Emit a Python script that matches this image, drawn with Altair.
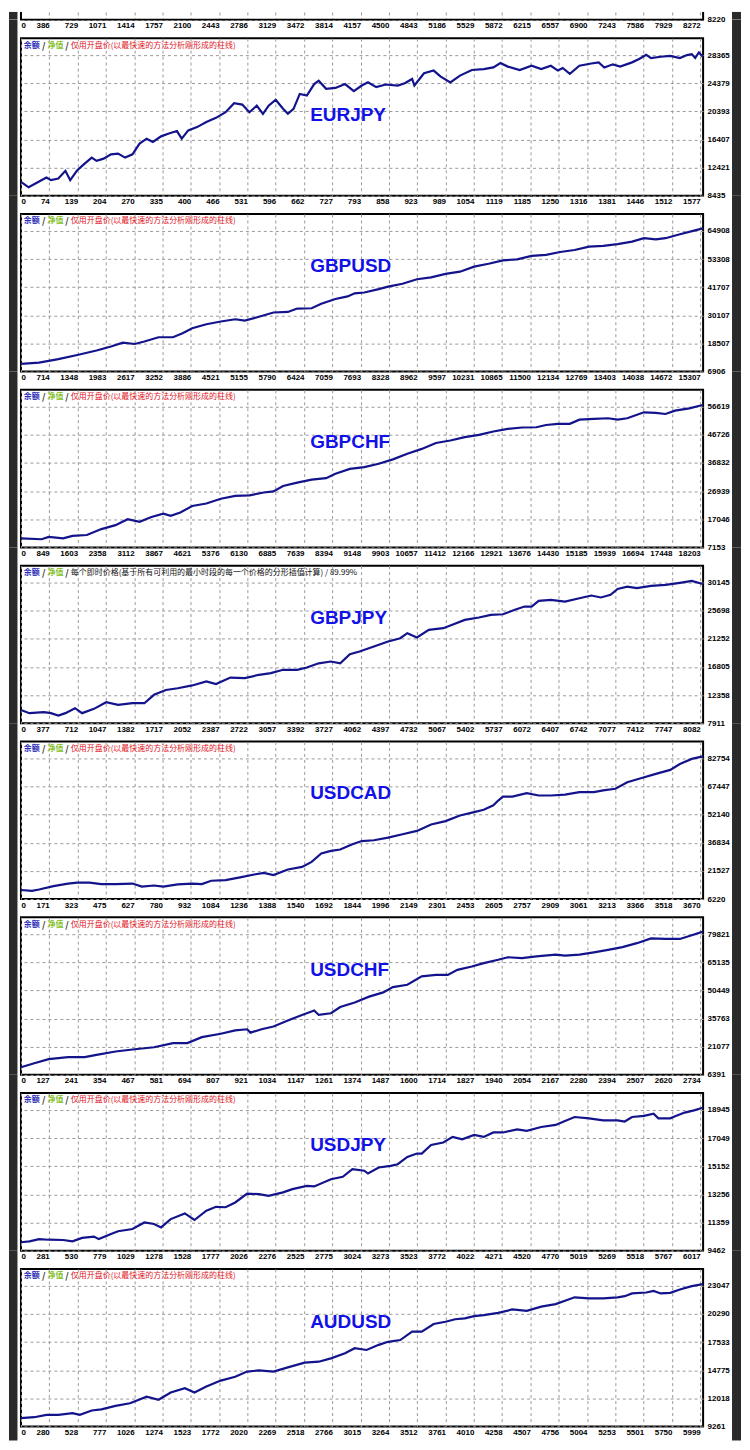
import altair as alt
import pandas as pd

# ---------------- axis labels ----------------
TOP_XL = [0, 386, 729, 1071, 1414, 1757, 2100, 2443, 2786, 3129, 3472, 3814, 4157, 4500,
          4843, 5186, 5529, 5872, 6215, 6557, 6900, 7243, 7586, 7929, 8272]
TOP_YL = [8220]

EURJPY_XL = [0, 74, 139, 204, 270, 335, 400, 466, 531, 596, 662, 727, 793, 858, 923, 989,
             1054, 1119, 1185, 1250, 1316, 1381, 1446, 1512, 1577]
EURJPY_YL = [8435, 12421, 16407, 20393, 24379, 28365]

GBPUSD_XL = [0, 714, 1348, 1983, 2617, 3252, 3886, 4521, 5155, 5790, 6424, 7059, 7693, 8328,
             8962, 9597, 10231, 10865, 11500, 12134, 12769, 13403, 14038, 14672, 15307]
GBPUSD_YL = [6906, 18507, 30107, 41707, 53308, 64908]

GBPCHF_XL = [0, 849, 1603, 2358, 3112, 3867, 4621, 5376, 6130, 6885, 7639, 8394, 9148, 9903,
             10657, 11412, 12166, 12921, 13676, 14430, 15185, 15939, 16694, 17448, 18203]
GBPCHF_YL = [7153, 17046, 26939, 36832, 46726, 56619]

GBPJPY_XL = [0, 377, 712, 1047, 1382, 1717, 2052, 2387, 2722, 3057, 3392, 3727, 4062, 4397,
             4732, 5067, 5402, 5737, 6072, 6407, 6742, 7077, 7412, 7747, 8082]
GBPJPY_YL = [7911, 12358, 16805, 21252, 25698, 30145]

USDCAD_XL = [0, 171, 323, 475, 627, 780, 932, 1084, 1236, 1388, 1540, 1692, 1844, 1996, 2149,
             2301, 2453, 2605, 2757, 2909, 3061, 3213, 3366, 3518, 3670]
USDCAD_YL = [6220, 21527, 36834, 52140, 67447, 82754]

USDCHF_XL = [0, 127, 241, 354, 467, 581, 694, 807, 921, 1034, 1147, 1261, 1374, 1487, 1600,
             1714, 1827, 1940, 2054, 2167, 2280, 2394, 2507, 2620, 2734]
USDCHF_YL = [6391, 21077, 35763, 50449, 65135, 79821]

USDJPY_XL = [0, 281, 530, 779, 1029, 1278, 1528, 1777, 2026, 2276, 2525, 2775, 3024, 3273,
             3523, 3772, 4022, 4271, 4520, 4770, 5019, 5269, 5518, 5767, 6017]
USDJPY_YL = [9462, 11359, 13256, 15152, 17049, 18945]

AUDUSD_XL = [0, 280, 528, 777, 1026, 1274, 1523, 1772, 2020, 2269, 2518, 2766, 3015, 3264,
             3512, 3761, 4010, 4258, 4507, 4756, 5004, 5253, 5501, 5750, 5999]
AUDUSD_YL = [9261, 12018, 14775, 17533, 20290, 23047]

# ---------------- balance curves: (position in grid steps, balance) ----------------
EURJPY = [(0, 10400), (0.27, 9630), (0.56, 10270), (0.90, 11020), (1.06, 10640), (1.32, 10880),
          (1.57, 11960), (1.74, 10640), (1.99, 12060), (2.25, 12980), (2.50, 13840), (2.67, 13370),
          (2.92, 13690), (3.18, 14300), (3.43, 14410), (3.68, 13840), (3.94, 14300), (4.19, 15820),
          (4.44, 16520), (4.66, 16050), (4.95, 16850), (5.20, 17210), (5.51, 17600), (5.68, 16520),
          (5.91, 17690), (6.22, 18160), (6.55, 18880), (6.89, 19470), (7.23, 20270), (7.53, 21550),
          (7.82, 21350), (8.07, 20270), (8.33, 21190), (8.55, 20040), (8.75, 21190), (9.00, 22030),
          (9.26, 20750), (9.43, 20040), (9.63, 20750), (9.85, 22860), (10.10, 22640), (10.36, 24260),
          (10.52, 24740), (10.78, 23580), (11.11, 23710), (11.45, 24260), (11.76, 23260), (12.04, 24050),
          (12.26, 24500), (12.55, 23820), (12.89, 24190), (13.31, 24050), (13.56, 24380), (13.82, 24980),
          (13.90, 24050), (14.24, 25780), (14.58, 26170), (14.83, 25300), (15.17, 24500), (15.51, 25450),
          (15.93, 26250), (16.35, 26370), (16.69, 26610), (16.94, 27240), (17.20, 26730), (17.62, 26250),
          (18.04, 26850), (18.38, 26370), (18.72, 26850), (18.97, 26170), (19.14, 26530), (19.39, 25700),
          (19.73, 26850), (20.15, 27170), (20.41, 27330), (20.61, 26610), (20.91, 27050), (21.17, 26730),
          (21.59, 27330), (21.84, 27800), (22.09, 28400), (22.26, 27940), (22.60, 28130), (22.94, 28250),
          (23.28, 27940), (23.53, 28365), (23.70, 28500), (23.82, 27940), (23.95, 28730), (24.09, 28130)]

GBPUSD = [(0, 10040), (0.64, 10620), (1.32, 12010), (1.99, 13750), (2.67, 15600), (3.18, 17230),
          (3.60, 18850), (4.02, 18280), (4.36, 19320), (4.86, 21060), (5.37, 21060), (5.71, 22680),
          (6.05, 24770), (6.55, 26400), (7.06, 27550), (7.57, 28480), (7.91, 27900), (8.41, 29530),
          (8.92, 31270), (9.43, 31500), (9.76, 32890), (10.27, 33010), (10.61, 34860), (11.11, 36830),
          (11.54, 37880), (11.79, 39150), (12.13, 39500), (12.64, 40890), (12.97, 41940), (13.48, 43100),
          (13.99, 44960), (14.49, 45770), (15.00, 47160), (15.51, 48090), (16.01, 50180), (16.52, 51340),
          (17.03, 52730), (17.53, 53190), (18.04, 54580), (18.55, 55050), (19.05, 56210), (19.56, 57020),
          (20.07, 58410), (20.57, 58760), (21.08, 59450), (21.59, 60500), (22.01, 61890), (22.43, 61430),
          (22.77, 61890), (23.28, 63510), (23.78, 65020), (24.09, 65950)]

GBPCHF = [(0, 10320), (0.73, 10020), (0.98, 10810), (1.49, 10320), (1.82, 11210), (2.33, 11510),
          (2.84, 13580), (3.34, 14970), (3.77, 17050), (4.19, 16160), (4.61, 17840), (5.03, 19020),
          (5.29, 18230), (5.63, 19420), (6.05, 21700), (6.55, 22590), (7.06, 24270), (7.57, 25260),
          (8.07, 25460), (8.58, 26450), (8.92, 26840), (9.26, 28720), (9.76, 29910), (10.27, 30990),
          (10.78, 31490), (11.11, 33070), (11.62, 34760), (12.13, 35350), (12.64, 36540), (13.14, 38110),
          (13.65, 40100), (14.16, 41780), (14.66, 43860), (15.17, 44750), (15.68, 45930), (16.18, 46720),
          (16.69, 47910), (17.20, 48800), (17.70, 49300), (18.21, 49390), (18.55, 50190), (18.97, 50580),
          (19.39, 50580), (19.73, 52070), (20.24, 52360), (20.74, 52560), (21.08, 52070), (21.42, 52560),
          (22.01, 54640), (22.43, 54440), (22.77, 54050), (23.11, 55230), (23.61, 56020), (24.09, 57210)]

GBPJPY = [(0, 10000), (0.30, 9500), (0.81, 9650), (1.06, 9500), (1.32, 9110), (1.57, 9500),
          (1.91, 10280), (2.16, 9500), (2.58, 10180), (3.01, 11230), (3.43, 10810), (3.94, 11070),
          (4.36, 11070), (4.70, 12400), (5.12, 13160), (5.54, 13440), (6.05, 13880), (6.55, 14510),
          (6.89, 14090), (7.40, 15130), (7.91, 15030), (8.41, 15560), (8.83, 15820), (9.26, 16350),
          (9.76, 16350), (10.10, 16710), (10.52, 17380), (10.95, 17660), (11.28, 17380), (11.62, 18820),
          (11.96, 19240), (12.47, 20040), (12.97, 20820), (13.40, 21340), (13.65, 22140), (13.99, 21460),
          (14.41, 22660), (14.92, 22930), (15.17, 23360), (15.68, 24240), (16.18, 24610), (16.60, 25030),
          (17.03, 25130), (17.45, 25830), (17.79, 26350), (18.04, 26350), (18.29, 27250), (18.72, 27390),
          (19.22, 27140), (19.73, 27660), (20.15, 28090), (20.49, 27780), (20.83, 28200), (21.08, 29130),
          (21.42, 29500), (21.76, 29250), (22.26, 29620), (22.77, 29770), (23.28, 30100), (23.70, 30410),
          (24.09, 29900)]

USDCAD = [(0, 11120), (0.39, 10660), (0.64, 11420), (1.15, 13260), (1.66, 14640), (1.99, 15100),
          (2.42, 15100), (2.84, 14330), (3.34, 14330), (3.94, 14640), (4.27, 12950), (4.70, 13570),
          (5.03, 12950), (5.54, 14180), (6.05, 14640), (6.39, 14330), (6.72, 16170), (7.23, 16480),
          (7.74, 18010), (8.24, 19540), (8.58, 20460), (8.92, 19230), (9.43, 22290), (9.93, 23670),
          (10.27, 26430), (10.61, 30990), (10.95, 32400), (11.28, 33160), (11.71, 36070), (12.04, 37760),
          (12.47, 38210), (12.97, 39600), (13.48, 41430), (13.99, 43260), (14.49, 46790), (15.00, 48620),
          (15.51, 51680), (16.01, 53520), (16.35, 54750), (16.69, 57190), (16.86, 59800), (17.03, 61940),
          (17.36, 61940), (17.87, 63770), (18.29, 62550), (18.72, 62550), (19.22, 63010), (19.73, 64390),
          (20.24, 64390), (20.57, 65300), (21.00, 66220), (21.42, 69740), (21.93, 72040), (22.43, 74330),
          (22.94, 76470), (23.28, 79690), (23.70, 82440), (24.09, 83820)]

USDCHF = [(0, 10360), (0.47, 12410), (0.98, 14610), (1.66, 15640), (2.25, 15640), (2.67, 16820),
          (3.34, 18580), (4.02, 19750), (4.70, 20780), (5.37, 22980), (5.88, 22980), (6.39, 26070),
          (7.06, 27830), (7.57, 29590), (7.99, 30180), (8.11, 28420), (8.50, 30180), (8.92, 31650),
          (9.43, 34740), (9.93, 37670), (10.36, 40020), (10.52, 37670), (10.95, 38550), (11.28, 41790),
          (11.79, 44140), (12.30, 47220), (12.80, 49420), (13.14, 52210), (13.65, 53390), (14.16, 57790),
          (14.66, 58530), (15.08, 58530), (15.42, 61170), (15.93, 62930), (16.35, 64690), (16.86, 66460),
          (17.20, 67780), (17.70, 67340), (18.21, 68220), (18.89, 69100), (19.22, 68660), (19.73, 69100),
          (20.24, 70280), (20.74, 71600), (21.25, 73060), (21.76, 75120), (22.26, 77620), (22.77, 77330),
          (23.28, 77330), (23.70, 79260), (24.09, 81140)]

USDJPY = [(0, 10030), (0.30, 10090), (0.64, 10240), (0.98, 10200), (1.49, 10180), (1.82, 10090),
          (2.16, 10320), (2.58, 10410), (2.75, 10240), (3.18, 10580), (3.43, 10770), (3.94, 10920),
          (4.36, 11360), (4.70, 11260), (4.95, 11030), (5.29, 11590), (5.79, 11970), (6.13, 11530),
          (6.55, 12160), (6.89, 12420), (7.23, 12390), (7.57, 12710), (7.99, 13310), (8.41, 13270),
          (8.75, 13160), (9.26, 13390), (9.59, 13610), (10.10, 13830), (10.36, 13790), (10.95, 14280),
          (11.37, 14440), (11.71, 14960), (12.13, 14850), (12.26, 14660), (12.64, 15070), (13.06, 15180),
          (13.31, 15290), (13.65, 15780), (13.99, 16010), (14.16, 16000), (14.49, 16590), (14.92, 16750),
          (15.25, 17130), (15.59, 16970), (16.01, 17260), (16.35, 17130), (16.69, 17430), (17.03, 17430),
          (17.53, 17640), (17.87, 17540), (18.38, 17800), (18.89, 17940), (19.22, 18200), (19.56, 18470),
          (20.07, 18380), (20.57, 18250), (21.08, 18250), (21.33, 18170), (21.59, 18470), (22.01, 18550),
          (22.35, 18700), (22.52, 18380), (22.94, 18380), (23.11, 18520), (23.45, 18770), (23.78, 18920),
          (24.09, 19100)]

AUDUSD = [(0, 10090), (0.47, 10170), (0.90, 10400), (1.32, 10400), (1.82, 10560), (2.08, 10400),
          (2.50, 10830), (2.84, 10940), (3.34, 11280), (3.85, 11540), (4.44, 12180), (4.86, 11880),
          (5.29, 12590), (5.79, 13010), (6.13, 12590), (6.55, 13180), (7.06, 13760), (7.57, 14140),
          (7.99, 14640), (8.41, 14750), (8.92, 14640), (9.43, 15050), (10.02, 15520), (10.52, 15610),
          (10.95, 15940), (11.45, 16430), (11.79, 16930), (12.21, 16760), (12.64, 17260), (12.97, 17560),
          (13.40, 17730), (13.82, 18550), (14.16, 18550), (14.58, 19300), (15.00, 19520), (15.34, 19770),
          (15.68, 19850), (16.01, 20070), (16.35, 20180), (16.86, 20400), (17.36, 20730), (17.87, 20590),
          (18.38, 21010), (18.89, 21250), (19.22, 21590), (19.56, 21920), (20.07, 21810), (20.57, 21810),
          (21.08, 21920), (21.33, 22030), (21.59, 22300), (22.09, 22390), (22.35, 22550), (22.60, 22300),
          (22.94, 22360), (23.28, 22690), (23.70, 23020), (24.09, 23210)]

# ---------------- header texts ----------------
H_BAL = "余额"
H_EQ = "净值"
H_OPEN = "仅用开盘价(以最快速的方法分析刚形成的柱线)"
H_TICK = "每个即时价格(基于所有可利用的最小时段的每一个价格的分形插值计算) / 89.99%"

PANELS = [
    ("EURJPY", EURJPY, EURJPY_XL, EURJPY_YL, "open", 77.5),
    ("GBPUSD", GBPUSD, GBPUSD_XL, GBPUSD_YL, "open", 52.0),
    ("GBPCHF", GBPCHF, GBPCHF_XL, GBPCHF_YL, "open", 52.0),
    ("GBPJPY", GBPJPY, GBPJPY_XL, GBPJPY_YL, "tick", 52.3),
    ("USDCAD", USDCAD, USDCAD_XL, USDCAD_YL, "open", 52.1),
    ("USDCHF", USDCHF, USDCHF_XL, USDCHF_YL, "open", 52.5),
    ("USDJPY", USDJPY, USDJPY_XL, USDJPY_YL, "open", 52.5),
    ("AUDUSD", AUDUSD, AUDUSD_XL, AUDUSD_YL, "open", 52.9),
]

# ---------------- style ----------------
W, H, GAP = 684, 158, 18.3
TOP_H = 7.7
X_END = 24.1
DARK = "#2a2a2a"
LINE = "#13138c"
BIG = "#1212e6"
CJK = "Noto Sans CJK SC"
NUM = "Liberation Sans"
ONE = pd.DataFrame({"k": [0]})


def x_axis(labels):
    arr = "[" + ",".join("'%s'" % v for v in labels) + "]"
    return alt.Axis(
        values=list(range(len(labels))),
        labelExpr=arr + "[datum.value]",
        labelAlign={"condition": {"test": "datum.value == 0", "value": "left"}, "value": "right"},
        title=None,
    )


def y_axis(labels):
    return alt.Axis(orient="right", values=labels, format="d", title=None)


def y_scale(labels):
    lo, top = labels[0], labels[-1]
    hi = lo + (top - lo) * 1.12 if top > lo else lo + 80
    return alt.Scale(domain=[lo, hi], nice=False, zero=False)


def stripes(y0, y1):
    base = alt.Chart(ONE).mark_rect(color=DARK)
    return [
        base.encode(x=alt.value(-12), x2=alt.value(-3.5), y=alt.value(y0), y2=alt.value(y1)),
        base.encode(x=alt.value(W + 29), x2=alt.value(W + 38), y=alt.value(y0), y2=alt.value(y1)),
    ]


def txt(s, x, y, color, size=8, weight="normal", font=CJK):
    return alt.Chart(ONE).mark_text(
        text=s, align="left", baseline="middle", font=font, fontSize=size,
        fontWeight=weight, color=color,
    ).encode(x=alt.value(x), y=alt.value(y))


def panel(name, data, xl, yl, kind, label_y, last=False):
    df = pd.DataFrame(data, columns=["step", "balance"])
    line = alt.Chart(df).mark_line(color=LINE, strokeWidth=2.2, clip=True).encode(
        x=alt.X("step:Q", scale=alt.Scale(domain=[0, X_END], nice=False, zero=False), axis=x_axis(xl)),
        y=alt.Y("balance:Q", scale=y_scale(yl), axis=y_axis(yl)),
    )
    hy = 7.4
    texts = [
        txt(H_BAL, 2.7, hy, "#2e2eb8", weight="bold"),
        txt("/", 21, hy, "#333333", 9, "bold"),
        txt(H_EQ, 26.7, hy, "#84bf2c", weight="bold"),
        txt("/", 44.3, hy, "#333333", 9, "bold"),
    ]
    if kind == "open":
        texts.append(txt(H_OPEN, 50, hy, "#e0141e"))
    else:
        texts.append(txt(H_TICK, 50, hy, "#111111"))
    texts.append(txt(name, 290, label_y, BIG, 19, "bold", NUM))
    bottom = H + 14 if last else H
    return alt.layer(*stripes(-GAP, bottom), line, *texts).properties(width=W, height=H)


# partial panel cut off at the top of the picture (no top border visible)
top_df = pd.DataFrame({"step": [0], "balance": [TOP_YL[0]]})
edge = alt.Chart(ONE).mark_rule(color="#000000", strokeWidth=2)
top_panel = alt.layer(
    *stripes(0, TOP_H),
    alt.Chart(top_df).mark_point(opacity=0).encode(
        x=alt.X("step:Q", scale=alt.Scale(domain=[0, X_END], nice=False, zero=False), axis=x_axis(TOP_XL)),
        y=alt.Y("balance:Q", scale=y_scale(TOP_YL), axis=y_axis(TOP_YL)),
    ),
    edge.encode(x=alt.value(0), y=alt.value(0), y2=alt.value(TOP_H)),
    edge.encode(x=alt.value(W), y=alt.value(0), y2=alt.value(TOP_H)),
    edge.encode(x=alt.value(-1), x2=alt.value(W + 1), y=alt.value(TOP_H)),
).properties(width=W, height=TOP_H, view=alt.ViewBackground(stroke="transparent"))

panels = [top_panel] + [
    panel(n, d, xl, yl, k, ly, last=(i == len(PANELS) - 1))
    for i, (n, d, xl, yl, k, ly) in enumerate(PANELS)
]

chart = (
    alt.vconcat(*panels, spacing=GAP, bounds="flush")
    .properties(padding=0)
    .configure(background="white")
    .configure_view(stroke="#000000", strokeWidth=2)
    .configure_axis(
        domain=False, ticks=False, grid=True, gridColor="#9a9a9a", gridDash=[3, 3], gridWidth=1,
        labelFont=NUM, labelFontSize=8, labelFontWeight="bold", labelColor="#000000",
        labelFlush=False, labelOverlap=False,
    )
    .configure_axisX(labelPadding=2, labelBaseline="top")
    .configure_axisY(labelPadding=4, labelBaseline="middle")
)

chart.save("out.html", embed_options={"renderer": "svg", "actions": False})
